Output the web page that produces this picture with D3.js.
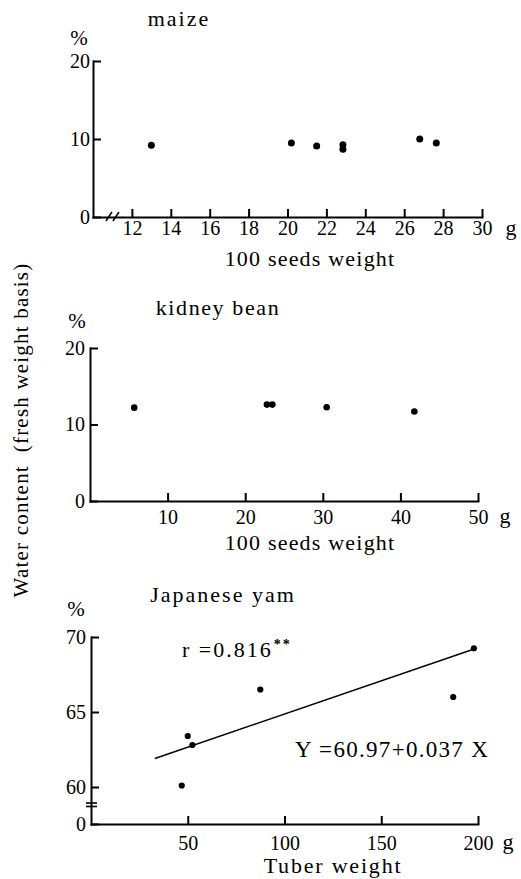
<!DOCTYPE html>
<html><head><meta charset="utf-8">
<script src="https://cdn.jsdelivr.net/npm/d3@7"></script>
<style>html,body{margin:0;padding:0;background:#fff}svg{display:block}</style>
</head><body>
<svg id="c" width="521" height="879"></svg>
<script>
// ---------- data ----------
const maizeWeight = [13.0, 20.2, 21.5, 22.85, 22.85, 26.8, 27.65];
const maizeWater  = [9.2, 9.5, 9.1, 9.25, 8.7, 10.0, 9.5];
const maizeTicksX = [12, 14, 16, 18, 20, 22, 24, 26, 28, 30];
const maizeTicksY = [0, 10, 20];

const beanWeight = [5.7, 22.8, 23.5, 30.5, 41.8];
const beanWater  = [12.2, 12.6, 12.6, 12.25, 11.7];
const beanTicksX = [10, 20, 30, 40, 50];
const beanTicksY = [0, 10, 20];

const yamWeight = [46.9, 50, 52.4, 87.5, 187.2, 197.9];
const yamWater  = [60.1, 63.4, 62.8, 66.5, 66.0, 69.25];
const yamTicksX = [50, 100, 150, 200];
const yamTicksY = [0, 60, 65, 70];
const yamFitX = [33, 198];
const yamFitY = [61.9, 69.2];

const titles = ["maize", "kidney bean", "Japanese yam"];
const xLabels = ["100 seeds weight", "100 seeds weight", "Tuber weight"];
const yLabel = "Water content\u00a0\u00a0(fresh weight basis)";
const rText = "r =0.816";
const eqText = "Y =60.97+0.037 X";

// ---------- drawing ----------
const svg = d3.select("#c");
svg.append("rect").attr("width", 521).attr("height", 879).attr("fill", "#fff");
const FONT = "Liberation Serif, DejaVu Serif, serif";

function txt(x, y, s, size, ls, anchor) {
  return svg.append("text").attr("x", x).attr("y", y).text(s)
    .attr("font-family", FONT).attr("font-size", size)
    .attr("letter-spacing", ls || 0)
    .attr("text-anchor", anchor || "start").attr("fill", "#000");
}

function styleAxis(g) {
  g.attr("font-family", FONT).attr("font-size", 20);
  g.select(".domain").attr("stroke", "#000").attr("stroke-width", 2).attr("stroke-linecap", "square");
  g.selectAll(".tick line").attr("stroke", "#000").attr("stroke-width", 2);
  g.selectAll(".tick text").attr("fill", "#000");
}

function panel(p) {
  const x = d3.scaleLinear().domain(p.xDomain).range(p.xRange);
  const y = d3.scaleLinear().domain(p.yDomain).range(p.yRange);
  const y0 = y(0), x0 = p.xRange[0];

  const gx = svg.append("g").attr("transform", `translate(0,${y0})`)
    .call(d3.axisBottom(x).tickValues(p.xTicks).tickSizeInner(-8).tickSizeOuter(0)
      .tickPadding(p.xPad).tickFormat(d3.format("d")));
  styleAxis(gx);
  const gy = svg.append("g").attr("transform", `translate(${x0},0)`)
    .call(d3.axisLeft(y).tickValues(p.yTicks).tickSizeInner(-8).tickSizeOuter(0)
      .tickPadding(p.yPad).tickFormat(d3.format("d")));
  styleAxis(gy);

  svg.append("g").selectAll("circle").data(p.xs).join("circle")
    .attr("cx", d => x(d)).attr("cy", (d, i) => y(p.ys[i])).attr("r", p.r).attr("fill", "#000");

  txt(p.titleX, p.titleY, p.title, 22, p.titleLs, "middle");
  txt(p.pctX, p.pctY, "%", 21, 0, "middle");
  txt(p.gX, p.gY, "g", 22, 0, "middle");
  txt(p.labX, y0 + 49, p.xLabel, 22, p.labLs, "middle");
  return {x, y};
}

// maize
const m = panel({
  xDomain: [10, 30], xRange: [93, 482], yDomain: [0, 20], yRange: [217, 61],
  xTicks: maizeTicksX, yTicks: maizeTicksY, xPad: 4, yPad: 3,
  xs: maizeWeight, ys: maizeWater, r: 3.5,
  title: titles[0], titleX: 179, titleY: 26, titleLs: 2,
  pctX: 79, pctY: 45, gX: 511, gY: 235,
  xLabel: xLabels[0], labX: 310, labLs: 1.2
});
// axis break on maize x-axis
[-3.5, 3.5].forEach(o => {
  const cx = m.x(11) + o;
  svg.append("line").attr("x1", cx - 3).attr("y1", m.y(0) + 4).attr("x2", cx + 3).attr("y2", m.y(0) - 5)
    .attr("stroke", "#000").attr("stroke-width", 1.5);
});

// kidney bean
panel({
  xDomain: [0, 50], xRange: [90, 478], yDomain: [0, 20], yRange: [501, 348],
  xTicks: beanTicksX, yTicks: beanTicksY, xPad: 9, yPad: 5,
  xs: beanWeight, ys: beanWater, r: 3.3,
  title: titles[1], titleX: 218, titleY: 315, titleLs: 1.6,
  pctX: 77, pctY: 328, gX: 505, gY: 523,
  xLabel: xLabels[1], labX: 310, labLs: 1.2
});

// Japanese yam (broken y axis: piecewise scale)
{
  const x = d3.scaleLinear().domain([0, 200]).range([91, 478]);
  const y = d3.scaleLinear().domain([0, 60, 70]).range([824, 787, 637]);
  const gx = svg.append("g").attr("transform", `translate(0,${y(0)})`)
    .call(d3.axisBottom(x).tickValues(yamTicksX).tickSizeInner(-8).tickSizeOuter(0).tickPadding(12));
  styleAxis(gx);
  const gy = svg.append("g").attr("transform", `translate(${x(0)},0)`)
    .call(d3.axisLeft(y).tickValues(yamTicksY).tickSizeInner(-8).tickSizeOuter(0).tickPadding(5));
  styleAxis(gy);
  // break marks on y axis
  [y(60) + 16, y(60) + 19.5].forEach(yy => {
    svg.append("line").attr("x1", x(0) - 5).attr("x2", x(0) + 6).attr("y1", yy).attr("y2", yy)
      .attr("stroke", "#000").attr("stroke-width", 1.6);
  });
  // regression line
  svg.append("path").datum(yamFitX.map((d, i) => [d, yamFitY[i]]))
    .attr("d", d3.line().x(d => x(d[0])).y(d => y(d[1])))
    .attr("fill", "none").attr("stroke", "#000").attr("stroke-width", 1.4);
  svg.append("g").selectAll("circle").data(yamWeight).join("circle")
    .attr("cx", d => x(d)).attr("cy", (d, i) => y(yamWater[i])).attr("r", 3.1).attr("fill", "#000");

  txt(223, 602, titles[2], 22, 2, "middle");
  txt(76, 616, "%", 21, 0, "middle");
  txt(508, 849, "g", 22, 0, "middle");
  txt(333, y(0) + 49, xLabels[2], 22, 1.8, "middle");
  const r = txt(182, 657, rText, 22, 2, "start");
  r.append("tspan").attr("font-size", 14).attr("font-weight", "bold").attr("fill", "#000")
    .attr("dy", -8).attr("dx", 1).text("**");
  txt(295, 757, eqText, 23, 1.3, "start");
}

// shared y label
svg.append("text").attr("transform", "translate(28,430) rotate(-90)")
  .attr("text-anchor", "middle").attr("font-family", FONT).attr("font-size", 21)
  .attr("letter-spacing", 1.2).attr("fill", "#000").text(yLabel);
</script>
</body></html>
